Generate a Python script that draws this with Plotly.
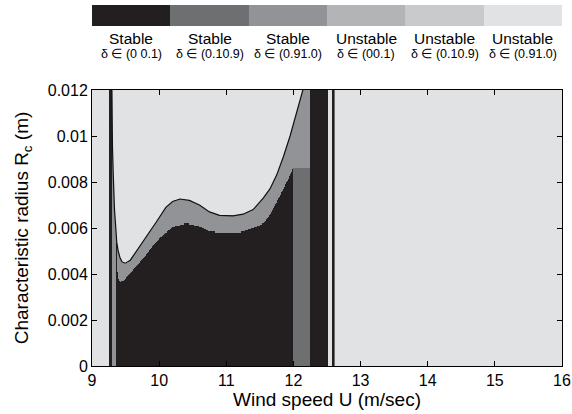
import numpy as np
import plotly.graph_objects as go

# ---------------- data ----------------
CATEGORY_STATE = ["Stable", "Stable", "Stable", "Unstable", "Unstable", "Unstable"]
CATEGORY_DELTA = ["δ ∈ (0 0.1)", "δ ∈ (0.10.9)", "δ ∈ (0.91.0)",
                  "δ ∈ (00.1)", "δ ∈ (0.10.9)", "δ ∈ (0.91.0)"]
CATEGORY_COLORS = ["#231f20", "#6e6f71", "#929396", "#b3b4b6", "#c9cacc", "#e1e2e4"]

# boundary: unstable (light) region above this curve
U_UPPER = [9.295, 9.298, 9.305, 9.317, 9.335, 9.357, 9.368, 9.39, 9.42, 9.45, 9.497,
           9.57, 9.70, 9.80, 9.96, 10.10, 10.20, 10.31, 10.45, 10.60, 10.75, 10.90,
           11.10, 11.25, 11.40, 11.55, 11.65, 11.75, 11.85, 11.95, 12.05, 12.15]
R_UPPER = [0.0125, 0.0110, 0.0095, 0.0083, 0.0068, 0.0059, 0.0054, 0.0050, 0.00468,
           0.00452, 0.00447, 0.00460, 0.00515, 0.00560, 0.00627, 0.00690, 0.00715,
           0.00726, 0.00720, 0.00700, 0.00670, 0.00655, 0.00653, 0.00660, 0.00680,
           0.00730, 0.00770, 0.00830, 0.00910, 0.01000, 0.01100, 0.01210]

# boundary: stable delta in (0, 0.1) (black) region below this curve
U_LOWER = [9.355, 9.358, 9.372, 9.39, 9.42, 9.47, 9.55, 9.72, 9.85, 9.96, 10.10,
           10.21, 10.41, 10.61, 10.76, 10.95, 11.20, 11.40, 11.55, 11.65, 11.80,
           11.90, 12.00]
R_LOWER = [-0.001, 0.0059, 0.0042, 0.0038, 0.00367, 0.0037, 0.0040, 0.00453, 0.0050,
           0.0054, 0.0058, 0.00606, 0.0062, 0.00606, 0.00584, 0.0058, 0.0058, 0.0060,
           0.0062, 0.00657, 0.0074, 0.0080, 0.0086]

# vertical strips of wind speed with their region type
STRIP_EDGES = [9.0, 9.255, 9.298, 12.0, 12.25, 12.52, 12.575, 12.60, 12.625, 16.0]
STRIP_CODES = ["u3", "s1", "curve", "curve_s2", "s1", "u3", "s1", "s2", "u3"]

X_TICKS = [9, 10, 11, 12, 13, 14, 15, 16]
Y_TICKS = [0, 0.002, 0.004, 0.006, 0.008, 0.010, 0.012]
Y_TICK_TEXT = ["0", "0.002", "0.004", "0.006", "0.008", "0.01", "0.012"]

# ---------------- grid ----------------
u_edges = np.concatenate([np.round(np.arange(9.0, 12.75, 0.005), 4), [12.75, 16.0]])
r_edges = np.linspace(0.0, 0.012, 241)
u_c = 0.5 * (u_edges[:-1] + u_edges[1:])
r_c = 0.5 * (r_edges[:-1] + r_edges[1:])

z = np.zeros((len(r_c), len(u_c)), dtype=int)
for j, u in enumerate(u_c):
    k = int(np.searchsorted(STRIP_EDGES, u, side="right") - 1)
    k = min(max(k, 0), len(STRIP_CODES) - 1)
    code = STRIP_CODES[k]
    if code == "u3":
        z[:, j] = 6
    elif code == "s1":
        z[:, j] = 1
    elif code == "s2":
        z[:, j] = 2
    else:
        up = np.interp(u, U_UPPER, R_UPPER)
        lo = np.interp(u, U_LOWER, R_LOWER)
        bottom = 2 if code == "curve_s2" else 1
        z[:, j] = np.where(r_c > up, 6, np.where(r_c > lo, 3, bottom))

n = len(CATEGORY_COLORS)
colorscale = []
for i, c in enumerate(CATEGORY_COLORS):
    colorscale.append([i / n, c])
    colorscale.append([(i + 1) / n, c])

FONT = "Liberation Sans, Arial, Helvetica, sans-serif"

fig = go.Figure()
fig.add_trace(go.Heatmap(
    x=u_edges, y=r_edges, z=z, colorscale=colorscale, zmin=0.5, zmax=n + 0.5,
    showscale=False, hoverinfo="skip", xaxis="x", yaxis="y"))
fig.add_trace(go.Scatter(
    x=U_UPPER, y=R_UPPER, mode="lines", line=dict(color="#111111", width=1.2),
    hoverinfo="skip", showlegend=False, xaxis="x", yaxis="y"))

# legend bar
cats = list(range(1, n + 1))
fig.add_trace(go.Heatmap(
    x=cats, y=[0], z=[cats], colorscale=colorscale, zmin=0.5, zmax=n + 0.5,
    showscale=False, hoverinfo="skip", xaxis="x2", yaxis="y2"))

# layout geometry (pixels)
W, H = 572, 414
ml, mr, mt, mb = 92, 10, 5, 48
ph = H - mt - mb
plot_top_px, plot_bot_px = 90, 366
bar_top_px, bar_bot_px = 5, 26


def py2paper(py):
    return (plot_bot_px - py) / ph


annotations = []
for i in range(n):
    annotations.append(dict(x=cats[i], y=py2paper(38), xref="x2", yref="paper",
                            text=CATEGORY_STATE[i], showarrow=False,
                            font=dict(size=15.5, color="black", family=FONT),
                            xanchor="center", yanchor="middle"))
    annotations.append(dict(x=cats[i], y=py2paper(54), xref="x2", yref="paper",
                            text=CATEGORY_DELTA[i], showarrow=False,
                            font=dict(size=12.5, color="black", family=FONT),
                            xanchor="center", yanchor="middle"))

axis_common = dict(showline=True, linecolor="black", linewidth=1, mirror="ticks",
                   ticks="inside", ticklen=5, tickcolor="black", tickwidth=1,
                   showgrid=False, zeroline=False, automargin=False,
                   tickfont=dict(size=16, color="black", family=FONT))

fig.update_layout(
    width=W, height=H,
    margin=dict(l=ml, r=mr, t=mt, b=mb, autoexpand=False),
    paper_bgcolor="white", plot_bgcolor="white",
    font=dict(family=FONT, color="black"),
    showlegend=False,
    xaxis=dict(domain=[0, 1], range=[9, 16], tickvals=X_TICKS,
               ticktext=[str(t) for t in X_TICKS], anchor="y",
               title=dict(text="Wind speed U (m/sec)", font=dict(size=19), standoff=2),
               **axis_common),
    yaxis=dict(domain=[0, py2paper(plot_top_px)], range=[0, 0.012], tickvals=Y_TICKS,
               ticktext=Y_TICK_TEXT, anchor="x",
               title=dict(text="Characteristic radius R<sub>c</sub> (m)",
                          font=dict(size=19), standoff=14),
               **axis_common),
    xaxis2=dict(domain=[0, 1], range=[0.5, n + 0.5], anchor="y2", visible=False),
    yaxis2=dict(domain=[py2paper(bar_bot_px), py2paper(bar_top_px)], range=[-0.5, 0.5],
                anchor="x2", visible=False),
    annotations=annotations,
)

fig.write_html("out.html",
               config={"displayModeBar": False, "staticPlot": True},
               post_script="document.body.style.margin='0px';"
                           "document.body.style.padding='0px';")
